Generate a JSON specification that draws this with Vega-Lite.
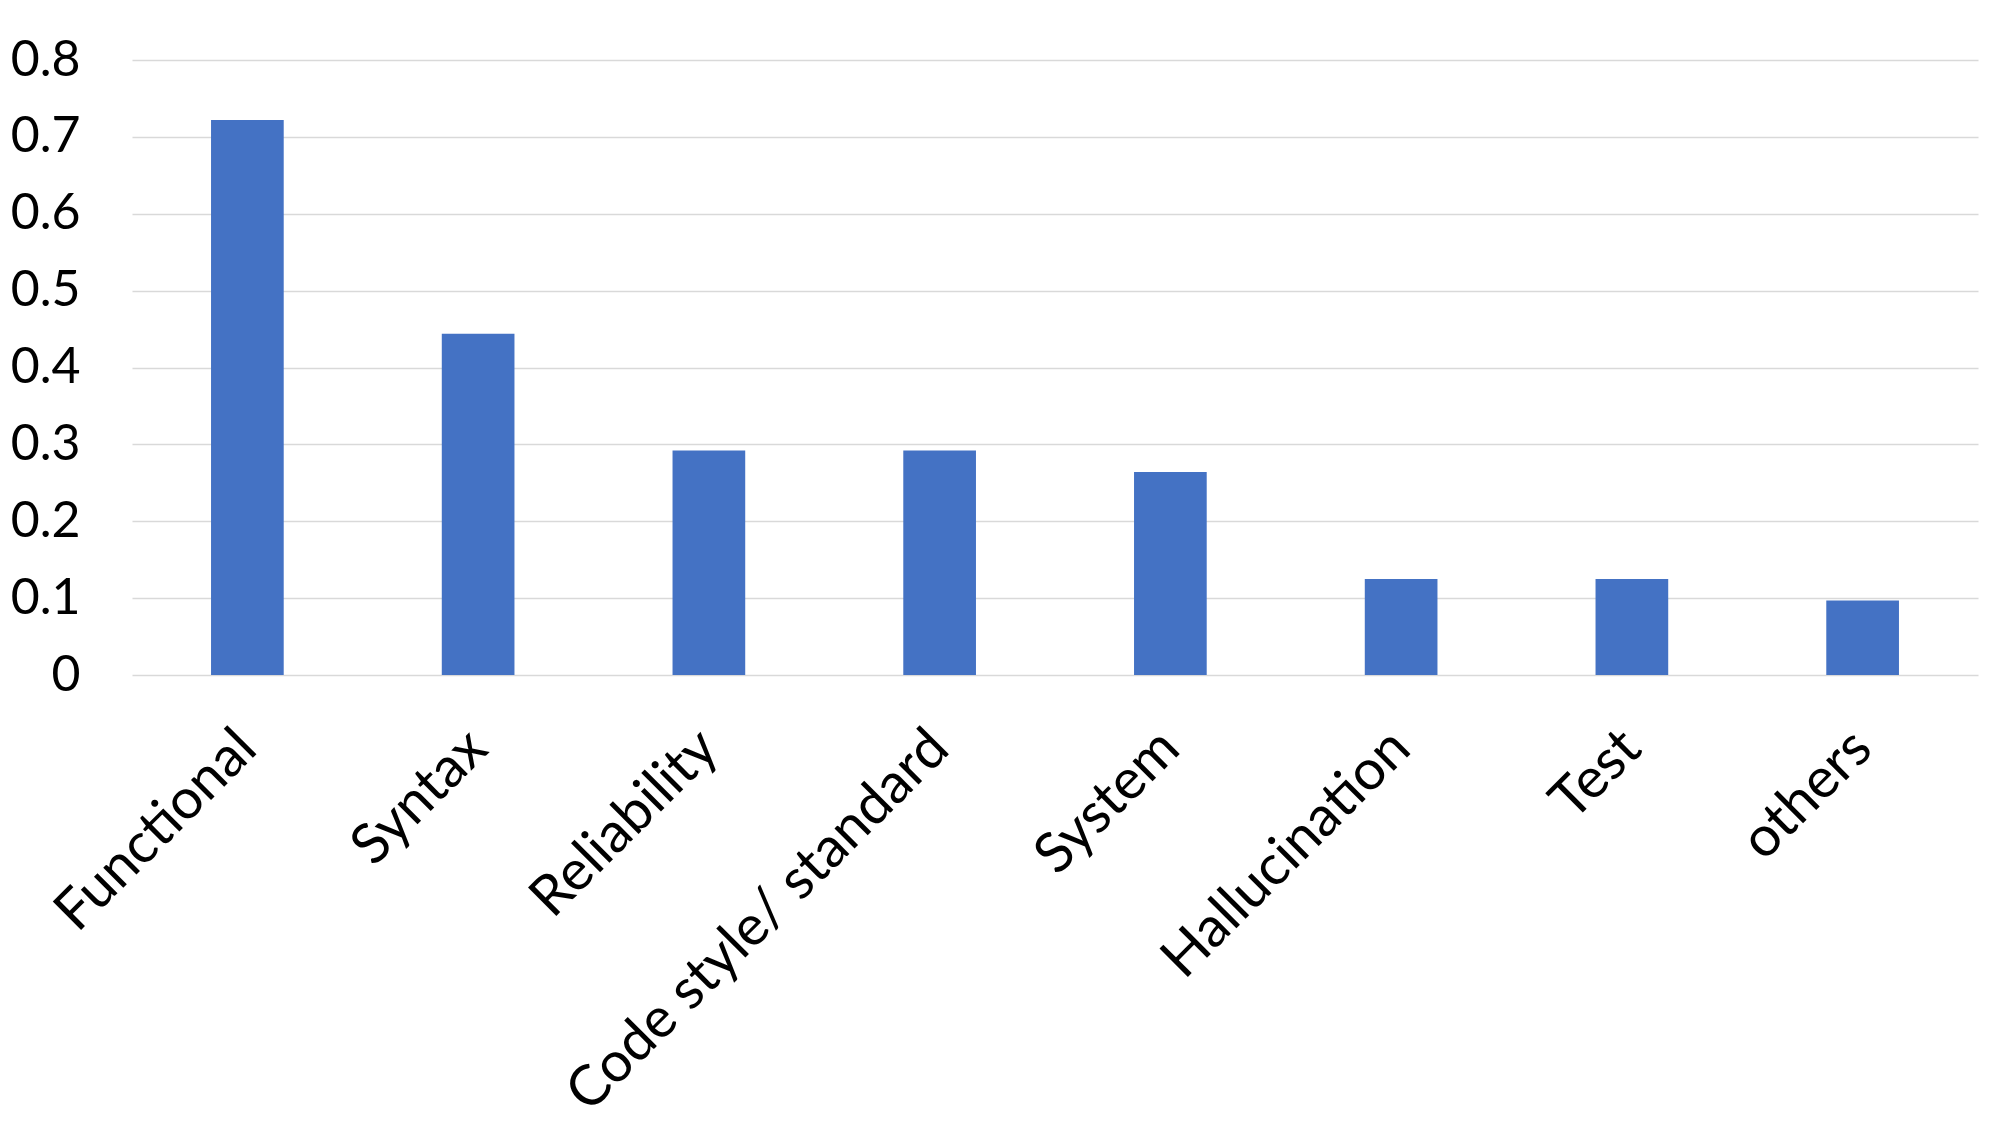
{
  "$schema": "https://vega.github.io/schema/vega-lite/v6.json",
  "width": 1846,
  "height": 615,
  "autosize": {"type": "none"},
  "padding": {"left": 132, "top": 60, "right": 22, "bottom": 450},
  "background": "white",
  "config": {"view": {"stroke": null}, "font": "Lato"},
  "data": {
    "values": [
      {"category": "Functional", "value": 0.722},
      {"category": "Syntax", "value": 0.444},
      {"category": "Reliability", "value": 0.292},
      {"category": "Code style/ standard", "value": 0.292},
      {"category": "System", "value": 0.264},
      {"category": "Hallucination", "value": 0.125},
      {"category": "Test", "value": 0.125},
      {"category": "others", "value": 0.097}
    ]
  },
  "mark": {"type": "bar", "color": "#4472C4"},
  "encoding": {
    "x": {
      "field": "category",
      "type": "nominal",
      "sort": null,
      "scale": {"paddingInner": 0.685, "paddingOuter": 0.3425},
      "axis": {
        "title": null,
        "domain": false,
        "ticks": false,
        "labelAngle": -45,
        "labelAlign": "right",
        "labelBaseline": "middle",
        "labelPadding": 64,
        "labelFontSize": 56,
        "labelColor": "#000000",
        "labelFont": "Lato",
        "labelLimit": 1000
      }
    },
    "y": {
      "field": "value",
      "type": "quantitative",
      "scale": {"domain": [0, 0.8], "nice": false},
      "axis": {
        "title": null,
        "domain": false,
        "ticks": false,
        "values": [0, 0.1, 0.2, 0.3, 0.4, 0.5, 0.6, 0.7, 0.8],
        "format": "~g",
        "labelPadding": 52,
        "labelFontSize": 50,
        "labelColor": "#000000",
        "labelFont": "Lato",
        "grid": true,
        "gridColor": "#d9d9d9",
        "gridWidth": 1.5
      }
    }
  }
}
